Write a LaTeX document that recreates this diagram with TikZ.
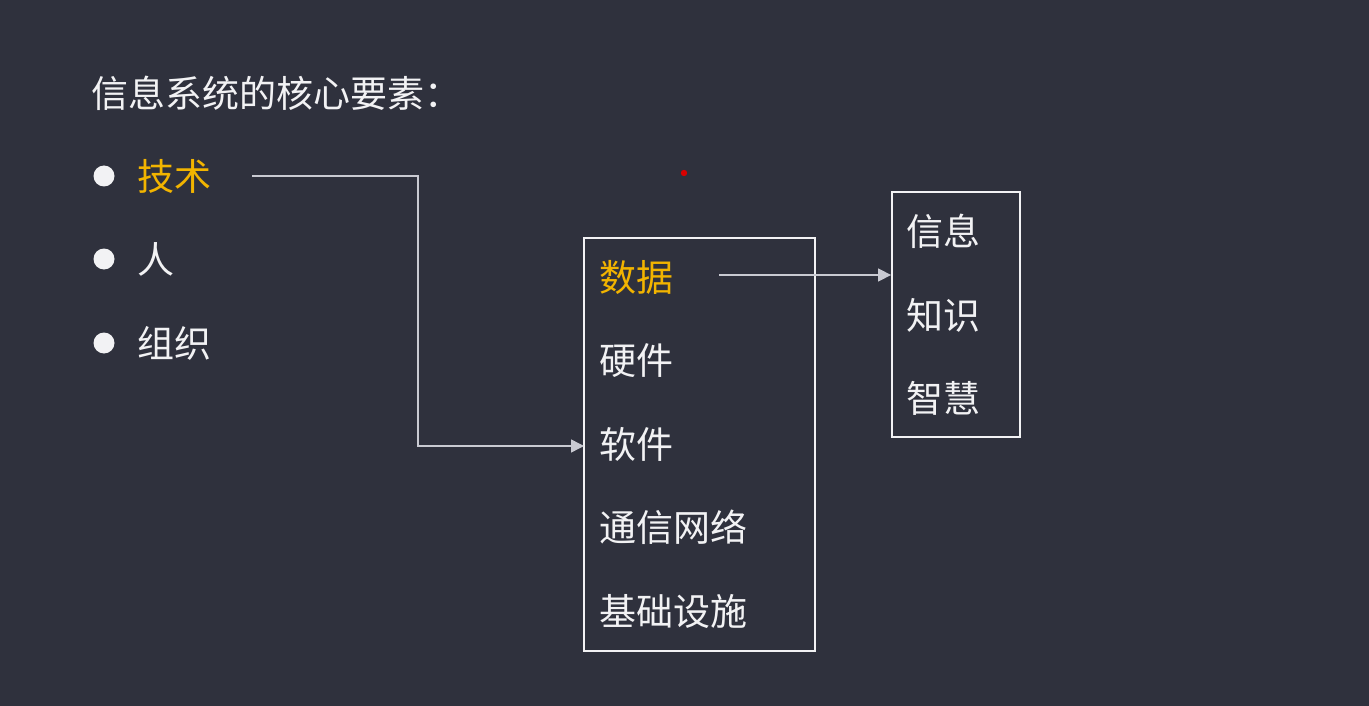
\documentclass[tikz,border=0pt]{standalone}
\usepackage{fontspec}
\newfontfamily\cjk{Noto Sans CJK SC}
\usetikzlibrary{arrows.meta}
\definecolor{bgc}{HTML}{2F313D}
\definecolor{txt}{HTML}{F2F2F4}
\definecolor{hl}{HTML}{F2B400}
\definecolor{lnc}{HTML}{C9CAD2}
\tikzset{
  lbl/.style={anchor=west, inner sep=0pt, text=txt, font=\cjk\fontsize{37}{37}\selectfont},
  hot/.style={lbl, text=hl},
  dot/.style={circle, fill=txt, inner sep=0pt, minimum size=21pt},
  frame/.style={draw=txt, line width=1.8pt, inner sep=0pt},
  conn/.style={draw=lnc, line width=1.5pt, -{Triangle[length=13pt,width=13pt]}},
}
\begin{document}
\begin{tikzpicture}[x=1pt,y=-1pt]
\fill[bgc] (0,0) rectangle (1369,706);
\useasboundingbox (0,0) rectangle (1369,706);
% title
\node[lbl] (title) at (91,93) {信息系统的核心要素：};
% bullet list
\node[dot] (b1) at (104,176) {};
\node[dot] (b2) at (104,259) {};
\node[dot] (b3) at (104,343) {};
\node[hot] (js) at (137,176) {技术};
\node[lbl] (ren) at (137,259) {人};
\node[lbl] (zz) at (137,343) {组织};
% boxes
\node[frame, minimum width=231pt, minimum height=413pt] (box1) at (699.5,444.5) {};
\node[frame, minimum width=128pt, minimum height=245pt] (box2) at (956,314.5) {};
% box 1 items
\node[hot] (sj) at (599,277) {数据};
\node[lbl] (yj) at (599,361) {硬件};
\node[lbl] (rj) at (599,444) {软件};
\node[lbl] (tx) at (599,527) {通信网络};
\node[lbl] (jc) at (599,611) {基础设施};
% box 2 items
\node[lbl] (xx) at (906,231) {信息};
\node[lbl] (zs) at (906,315) {知识};
\node[lbl] (zh) at (906,398) {智慧};
% connectors
\coordinate (jsstart) at (252,176);
\coordinate (bend) at (418,176);
\coordinate (rjend) at (584,446);
\draw[conn] (jsstart) -- (bend) |- (rjend);
\coordinate (sjstart) at (719,275);
\draw[conn] (sjstart) -- (sjstart -| box2.west);
% pointer dot
\fill[red!85!black] (684,173) circle (3.2pt);
\end{tikzpicture}
\end{document}
